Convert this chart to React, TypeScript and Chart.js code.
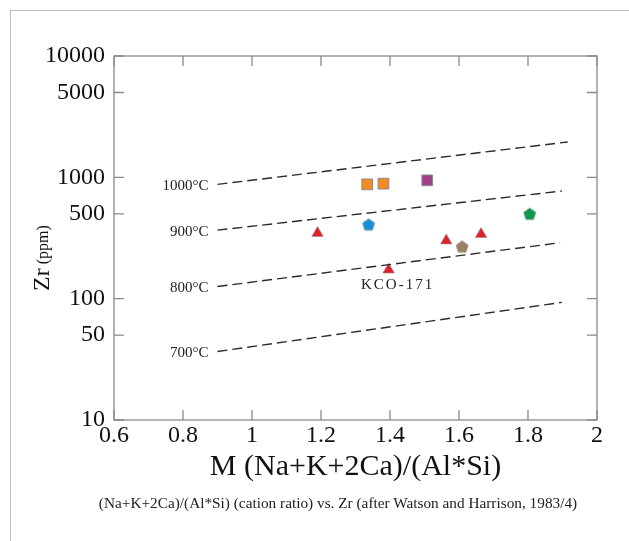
import React, { useEffect, useRef } from 'react';
import { Chart, registerables } from 'chart.js';

Chart.register(...registerables);

// ---- axis ticks ----
const xTickValues = [0.6, 0.8, 1, 1.2, 1.4, 1.6, 1.8, 2];
const yTickValues = [10, 50, 100, 500, 1000, 5000, 10000];

// ---- samples ----
const triangleX = [1.19, 1.396, 1.563, 1.664];
const triangleY = [347, 173, 301, 340];
const orangeSquareX = [1.334, 1.381];
const orangeSquareY = [875, 887];
const purpleSquareX = [1.508];
const purpleSquareY = [944];
const bluePentagonX = [1.338];
const bluePentagonY = [409];
const greenPentagonX = [1.805];
const greenPentagonY = [501];
const brownPentagonX = [1.609];
const brownPentagonY = [269];

// ---- zircon saturation isotherms ----
const isothermLabels = ['1000°C', '900°C', '800°C', '700°C'];
const isothermStartX = [0.9, 0.9, 0.9, 0.9];
const isothermEndX = [1.915, 1.898, 1.893, 1.898];
const isothermStartY = [875, 367, 126, 36.7];
const isothermEndY = [1957, 771, 289, 93.2];

const sampleLabel = 'KCO-171';
const sampleLabelIndex = 1;

const SERIF = "'Liberation Serif', 'Times New Roman', serif";

function pentagon(fill: string, R = 6.4): HTMLCanvasElement {
  const c = document.createElement('canvas');
  const s = 16;
  c.width = s;
  c.height = s;
  const ctx = c.getContext('2d')!;
  ctx.beginPath();
  for (let i = 0; i < 5; i++) {
    const a = -Math.PI / 2 + (i * 2 * Math.PI) / 5;
    const x = s / 2 + R * Math.cos(a);
    const y = s / 2 + 0.6 + R * Math.sin(a);
    if (i === 0) ctx.moveTo(x, y);
    else ctx.lineTo(x, y);
  }
  ctx.closePath();
  ctx.fillStyle = fill;
  ctx.fill();
  ctx.strokeStyle = 'rgba(130,130,130,0.7)';
  ctx.lineWidth = 0.8;
  ctx.stroke();
  return c;
}

function pts(xs: number[], ys: number[]) {
  return xs.map((x, i) => ({ x, y: ys[i] }));
}

const framePlugin = {
  id: 'framePlugin',
  afterDraw(chart: any) {
    const { ctx, chartArea: a, scales } = chart;
    const xs = scales.x;
    const ys = scales.y;
    ctx.save();
    ctx.strokeStyle = '#8a8a8a';
    ctx.lineWidth = 1.3;
    ctx.strokeRect(a.left, a.top, a.right - a.left, a.bottom - a.top);
    ctx.beginPath();
    const tl = 10;
    xTickValues.forEach((v) => {
      const px = xs.getPixelForValue(v);
      ctx.moveTo(px, a.bottom);
      ctx.lineTo(px, a.bottom - tl);
      ctx.moveTo(px, a.top);
      ctx.lineTo(px, a.top + tl);
    });
    yTickValues.forEach((v) => {
      const py = ys.getPixelForValue(v);
      ctx.moveTo(a.left, py);
      ctx.lineTo(a.left + tl, py);
      ctx.moveTo(a.right, py);
      ctx.lineTo(a.right - tl, py);
    });
    ctx.stroke();

    // isotherm labels
    ctx.fillStyle = '#222';
    ctx.font = `15px ${SERIF}`;
    ctx.textAlign = 'right';
    ctx.textBaseline = 'middle';
    isothermLabels.forEach((lab, i) => {
      const px = xs.getPixelForValue(isothermStartX[i]);
      const py = ys.getPixelForValue(isothermStartY[i]);
      ctx.fillText(lab, px - 9, py + 1.5);
    });

    // sample label
    const sx = xs.getPixelForValue(triangleX[sampleLabelIndex]);
    const sy = ys.getPixelForValue(triangleY[sampleLabelIndex]);
    ctx.textAlign = 'center';
    (ctx as any).letterSpacing = '2px';
    ctx.fillText(sampleLabel, sx + 9, sy + 15.5);
    (ctx as any).letterSpacing = '0px';

    // y axis title
    ctx.save();
    ctx.translate(43, 258);
    ctx.rotate(-Math.PI / 2);
    ctx.fillStyle = '#111';
    ctx.textBaseline = 'middle';
    ctx.textAlign = 'left';
    const big = `24px ${SERIF}`;
    const small = `16px ${SERIF}`;
    ctx.font = big;
    const w1 = ctx.measureText('Zr').width;
    ctx.font = small;
    const w2 = ctx.measureText(' (ppm)').width;
    const start = -(w1 + w2) / 2;
    ctx.font = big;
    ctx.fillText('Zr', start, 0);
    ctx.font = small;
    ctx.fillText(' (ppm)', start + w1, 1);
    ctx.restore();

    ctx.restore();
  },
};

export default function App() {
  const ref = useRef<HTMLCanvasElement | null>(null);

  useEffect(() => {
    if (!ref.current) return;
    const pointBorder = 'rgba(140,140,140,0.8)';
    const datasets: any[] = [];
    isothermLabels.forEach((lab, i) => {
      datasets.push({
        label: lab,
        data: [
          { x: isothermStartX[i], y: isothermStartY[i] },
          { x: isothermEndX[i], y: isothermEndY[i] },
        ],
        showLine: true,
        borderColor: '#2b2b2b',
        borderWidth: 1.4,
        borderDash: [10, 5],
        pointRadius: 0,
        fill: false,
      });
    });
    datasets.push(
      {
        label: 'triangles',
        data: pts(triangleX, triangleY),
        pointStyle: 'triangle',
        pointRadius: 6.6,
        backgroundColor: '#e3202a',
        borderColor: pointBorder,
        borderWidth: 0.8,
      },
      {
        label: 'orange squares',
        data: pts(orangeSquareX, orangeSquareY),
        pointStyle: 'rect',
        pointRadius: 7.6,
        backgroundColor: '#f68b1f',
        borderColor: '#8c8c8c',
        borderWidth: 1,
      },
      {
        label: 'purple square',
        data: pts(purpleSquareX, purpleSquareY),
        pointStyle: 'rect',
        pointRadius: 7.6,
        backgroundColor: '#9d3f8b',
        borderColor: '#8c8c8c',
        borderWidth: 1,
      },
      {
        label: 'blue pentagon',
        data: pts(bluePentagonX, bluePentagonY),
        pointStyle: pentagon('#1690d6'),
      },
      {
        label: 'green pentagon',
        data: pts(greenPentagonX, greenPentagonY),
        pointStyle: pentagon('#0c9a4d'),
      },
      {
        label: 'brown pentagon',
        data: pts(brownPentagonX, brownPentagonY),
        pointStyle: pentagon('#9c7f60'),
      }
    );

    const chart = new Chart(ref.current, {
      type: 'scatter',
      data: { datasets },
      options: {
        animation: false,
        responsive: false,
        devicePixelRatio: 1,
        layout: { padding: { left: 0, top: 56, right: 32, bottom: 0 } },
        plugins: { legend: { display: false }, tooltip: { enabled: false } },
        scales: {
          x: {
            type: 'linear',
            position: 'bottom',
            min: 0.6,
            max: 2,
            afterFit: (s: any) => {
              s.height = 121;
            },
            afterBuildTicks: (s: any) => {
              s.ticks = xTickValues.map((v) => ({ value: v }));
            },
            grid: { display: false, drawTicks: false, tickLength: 0 },
            border: { display: false },
            ticks: {
              autoSkip: false,
              maxRotation: 0,
              padding: 1,
              color: '#111',
              font: { family: SERIF, size: 24 },
              callback: (v: any) => String(+Number(v).toFixed(1)),
            },
            title: {
              display: true,
              text: 'M (Na+K+2Ca)/(Al*Si)',
              color: '#111',
              font: { family: SERIF, size: 30 },
              padding: { top: 0, bottom: 56 },
            },
          },
          y: {
            type: 'logarithmic',
            min: 10,
            max: 10000,
            afterFit: (s: any) => {
              s.width = 114;
            },
            afterBuildTicks: (s: any) => {
              s.ticks = yTickValues.map((v) => ({ value: v }));
            },
            grid: { display: false, drawTicks: false, tickLength: 0 },
            border: { display: false },
            ticks: {
              autoSkip: false,
              padding: 9,
              color: '#111',
              font: { family: SERIF, size: 24 },
              callback: (v: any) => String(v),
            },
          },
        },
      },
      plugins: [framePlugin],
    });
    return () => chart.destroy();
  }, []);

  return (
    <div style={{ position: 'absolute', left: 0, top: 0, width: 629, height: 541, background: '#fff', overflow: 'hidden' }}>
      <div
        style={{
          position: 'absolute',
          left: 10,
          top: 10,
          right: 0,
          bottom: 0,
          borderLeft: '1.5px solid #bdbdbd',
          borderTop: '1.5px solid #bdbdbd',
        }}
      />
      <canvas ref={ref} width={629} height={541} style={{ position: 'absolute', left: 0, top: 0, width: 629, height: 541 }} />
      <div
        style={{
          position: 'absolute',
          left: 0,
          width: 676,
          top: 494,
          textAlign: 'center',
          fontFamily: SERIF,
          fontSize: 15.3,
          lineHeight: '18px',
          color: '#222',
          whiteSpace: 'nowrap',
        }}
      >
        (Na+K+2Ca)/(Al*Si) (cation ratio) vs. Zr (after Watson and Harrison, 1983/4)
      </div>
    </div>
  );
}
